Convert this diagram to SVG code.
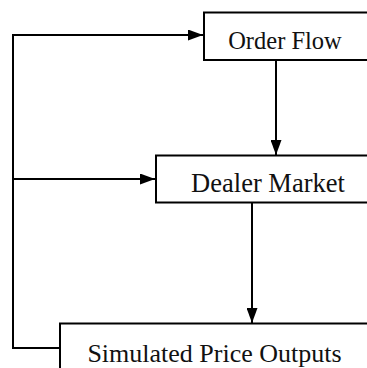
<svg xmlns="http://www.w3.org/2000/svg" width="367" height="368" viewBox="0 0 367 368">
  <style>
    .box { fill: #ffffff; stroke: #000000; stroke-width: 2; }
    .label { font-family: "Liberation Serif", "Times New Roman", serif; font-size: 25px; fill: #111111; text-anchor: middle; }
    .link { fill: none; stroke: #000000; stroke-width: 2; }
  </style>
  <defs>
    <marker id="arrow" markerUnits="userSpaceOnUse" markerWidth="15" markerHeight="11" refX="15" refY="5.5" orient="auto">
      <path d="M0,0 L15,5.5 L0,11 z" fill="#000000"/>
    </marker>
  </defs>
  <rect width="367" height="368" fill="#ffffff"/>

  <g id="connectors">
    <!-- feedback loop from outputs back to order flow -->
    <polyline class="link" points="60,348 13,348 13,35 203,35" marker-end="url(#arrow)"/>
    <!-- branch of the loop into the dealer market -->
    <line class="link" x1="13" y1="179" x2="155" y2="179" marker-end="url(#arrow)"/>
    <!-- order flow to dealer market -->
    <line class="link" x1="276" y1="60" x2="276" y2="155" marker-end="url(#arrow)"/>
    <!-- dealer market to outputs -->
    <line class="link" x1="252" y1="203" x2="252" y2="323" marker-end="url(#arrow)"/>
  </g>

  <g id="order-flow">
    <rect class="box" x="204" y="12.5" width="200" height="47.5"/>
    <text class="label" x="285" y="49" style="font-size:24.5px">Order Flow</text>
  </g>

  <g id="dealer-market">
    <rect class="box" x="156" y="155.5" width="250" height="47"/>
    <text class="label" x="268" y="192" style="font-size:26.5px">Dealer Market</text>
  </g>

  <g id="simulated-price-outputs">
    <rect class="box" x="60" y="323.5" width="340" height="60"/>
    <text class="label" x="214.5" y="362" style="font-size:26px">Simulated Price Outputs</text>
  </g>
</svg>
